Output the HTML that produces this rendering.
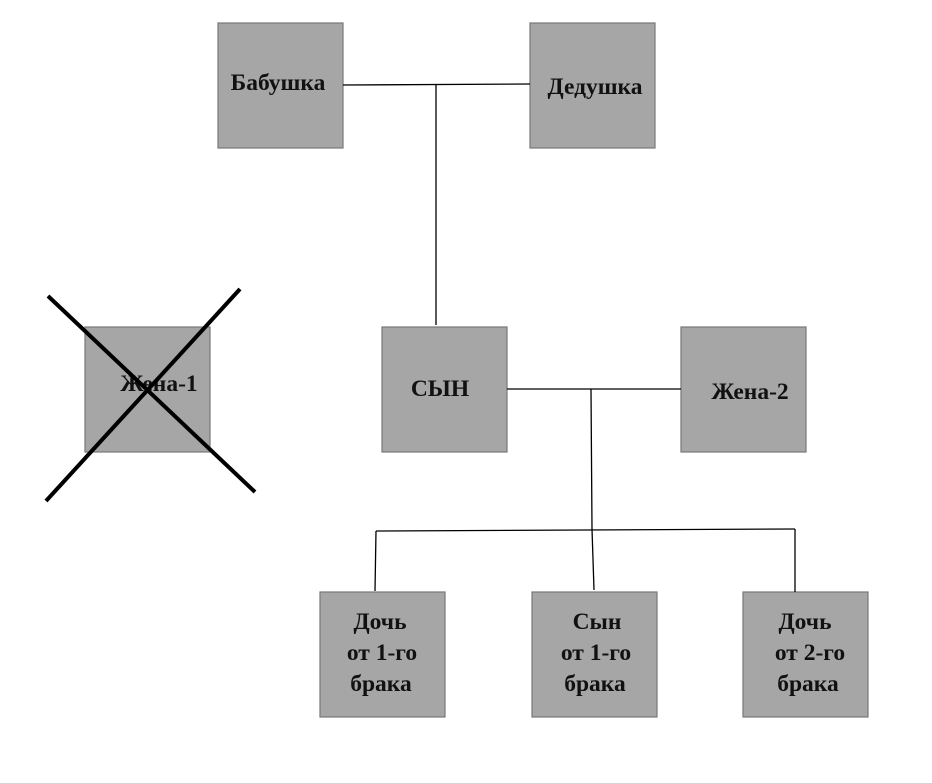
<!DOCTYPE html>
<html><head><meta charset="utf-8"><style>
html,body{margin:0;padding:0;background:#fff;}
svg text{font-family:"Liberation Serif",serif;font-weight:bold;font-size:23.5px;fill:#111;}
</style></head><body>
<svg width="932" height="778" viewBox="0 0 932 778" xmlns="http://www.w3.org/2000/svg">
<g fill="#a6a6a6" stroke="#777" stroke-width="1.2">
<rect x="218" y="23" width="125" height="125"/>
<rect x="530" y="23" width="125" height="125"/>
<rect x="85" y="327" width="125" height="125"/>
<rect x="382" y="327" width="125" height="125"/>
<rect x="681" y="327" width="125" height="125"/>
<rect x="320" y="592" width="125" height="125"/>
<rect x="532" y="592" width="125" height="125"/>
<rect x="743" y="592" width="125" height="125"/>
</g>
<g stroke="#000" stroke-width="1.3" fill="none">
<line x1="343" y1="85" x2="530" y2="84"/>
<line x1="436" y1="85" x2="436" y2="325"/>
<line x1="507" y1="389" x2="681" y2="389"/>
<line x1="591" y1="389" x2="592" y2="529"/>
<line x1="376" y1="531" x2="795" y2="529"/>
<line x1="376" y1="531" x2="375" y2="591"/>
<line x1="592" y1="529" x2="594" y2="590"/>
<line x1="795" y1="529" x2="795" y2="592"/>
</g>
<text x="278" y="90" text-anchor="middle">Бабушка</text>
<text x="595" y="94" text-anchor="middle">Дедушка</text>
<text x="440" y="396" text-anchor="middle">СЫН</text>
<text x="750" y="399" text-anchor="middle">Жена-2</text>
<text x="159" y="391" text-anchor="middle">Жена-1</text>
<g text-anchor="middle">
<text x="380" y="629">Дочь</text><text x="382" y="660">от 1-го</text><text x="381" y="691">брака</text>
<text x="597" y="629">Сын</text><text x="596" y="660">от 1-го</text><text x="595" y="691">брака</text>
<text x="805" y="629">Дочь</text><text x="810" y="660">от 2-го</text><text x="808" y="691">брака</text>
</g>
<g stroke="#000" stroke-width="4">
<line x1="48" y1="296" x2="255" y2="492"/>
<line x1="240" y1="289" x2="46" y2="501"/>
</g>
</svg>
</body></html>
